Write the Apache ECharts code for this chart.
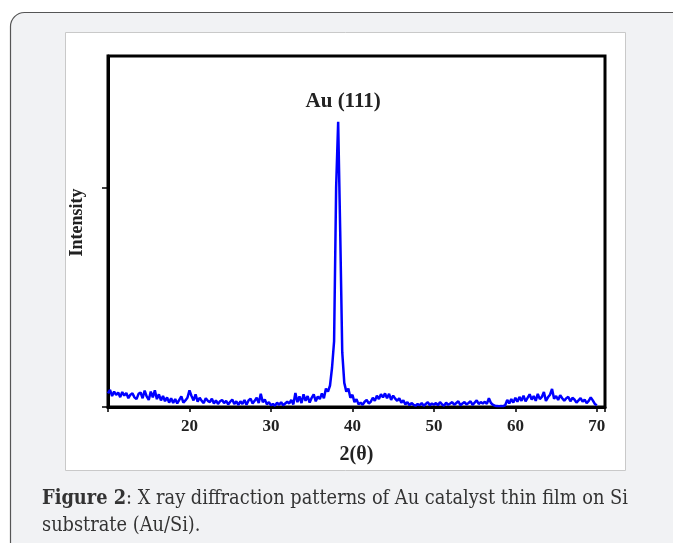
<!DOCTYPE html>
<html>
<head>
<meta charset="utf-8">
<script src="https://cdn.jsdelivr.net/npm/echarts@6/dist/echarts.min.js"></script>
<style>
    html, body { margin: 0; padding: 0; background: #fff; }
    #chart { width: 673px; height: 543px; }
</style>
</head>
<body>
<div id="chart"></div>
<script>
    // 2theta scan, 10 -> 70 deg, step 0.25
    var thetaStart = 10, thetaStep = 0.25;
    var intensity = [
        62, 78, 50, 70, 55, 66, 45, 68, 52,
        64, 40, 56, 62, 44, 36, 60, 66,
        40, 75, 48, 32, 70, 44, 76, 36,
        58, 30, 50, 26, 44, 20, 40, 18,
        36, 16, 32, 48, 20, 30, 42, 76,
        50, 30, 58, 24, 42, 28, 18, 40,
        28, 22, 38, 16, 30, 14, 26, 32,
        18, 28, 12, 24, 34, 14, 26, 10,
        26, 14, 32, 10, 30, 38, 16, 28,
        42, 18, 60, 22, 34, 12, 22, 8,
        14, 6, 20, 10, 22, 8, 16, 24,
        16, 32, 12, 64, 22, 48, 18, 58,
        28, 50, 20, 42, 58, 26, 48, 36,
        62, 40, 84, 70, 98, 180,
        300, 1000, 1300, 800, 250, 110,
        70, 84, 42, 56,
        22, 36, 12, 20, 10, 24, 32, 16,
        24, 42, 28, 52, 36, 58, 44, 62,
        40, 60, 32, 52, 38, 28, 40, 20,
        30, 12, 22, 8, 18, 10, 6, 14,
        8, 18, 6, 14, 22, 8, 16, 10,
        18, 8, 22, 12, 6, 20, 10, 16,
        22, 10, 18, 26, 8, 16, 22, 12,
        18, 26, 10, 20, 30, 14, 22, 16,
        24, 14, 40, 18, 10, 6, 5, 4,
        5, 4, 8, 32, 16, 36, 20, 42,
        24, 46, 28, 52, 26, 42, 58, 34,
        50, 28, 60, 36, 46, 68, 28, 44,
        56, 82, 38, 50, 32, 54, 40, 28,
        40, 46, 26, 42, 34, 20, 30, 40,
        24, 34, 18, 28, 44, 30, 14, 8
    ];
    var xTicks = [20, 30, 40, 50, 60, 70];
    var peak = { x: 38.25, y: 1300, name: 'Au (111)' };

    var points = [];
    for (var i = 0; i < intensity.length; i++) {
        points.push([thetaStart + i * thetaStep, intensity[i]]);
    }

    var serif = '"Liberation Serif", "Times New Roman", serif';
    var capFont = '"DejaVu Serif Condensed", "DejaVu Serif", serif';
    var mychart = echarts.init(document.getElementById('chart'));
    var option = {
        animation: false,
        graphic: [
            {
                type: 'rect', z: -100,
                shape: { x: 10.5, y: 12.5, width: 720, height: 600, r: 14 },
                style: { fill: '#f1f2f4', stroke: '#555', lineWidth: 1.2 }
            },
            {
                type: 'rect', z: -90,
                shape: { x: 65.5, y: 32.5, width: 560, height: 438 },
                style: { fill: '#fff', stroke: '#c9c9c9', lineWidth: 1 }
            },
            {
                type: 'text', left: 42, top: 485,
                style: {
                    text: '{b|Figure 2}: X ray diffraction patterns of Au catalyst thin film on Si\nsubstrate (Au/Si).',
                    font: '19.8px ' + capFont,
                    fill: '#333',
                    lineHeight: 27,
                    rich: {
                        b: { fontWeight: 'bold', fontSize: 19.8, fontFamily: capFont, fill: '#333' }
                    }
                }
            }
        ],
        grid: {
            left: 108, top: 56, right: 68, bottom: 136,
            show: true, borderColor: '#000', borderWidth: 3
        },
        xAxis: {
            type: 'value', min: 10, max: 71, interval: 10,
            name: '2(θ)', nameLocation: 'middle', nameGap: 38,
            nameTextStyle: { fontFamily: serif, fontWeight: 'bold', fontSize: 20, color: '#222' },
            axisLine: { lineStyle: { color: '#000', width: 3 } },
            axisTick: { length: 5, lineStyle: { color: '#000', width: 1.5 } },
            axisLabel: {
                margin: 11, fontFamily: serif, fontWeight: 'bold', fontSize: 17, color: '#222',
                formatter: function (v) { return xTicks.indexOf(v) >= 0 ? v : ''; }
            },
            splitLine: { show: false }
        },
        yAxis: {
            type: 'value', min: 0, max: 1600, interval: 1000,
            name: 'Intensity', nameLocation: 'middle', nameGap: 22, nameRotate: 90,
            nameTextStyle: { fontFamily: serif, fontWeight: 'bold', fontSize: 18, color: '#222', padding: [0, 0, 0, 18] },
            axisLine: { show: true, lineStyle: { color: '#000', width: 3 } },
            axisTick: { show: true, length: 6, customValues: [0, 1000], lineStyle: { color: '#000', width: 1.5 } },
            axisLabel: { show: false },
            splitLine: { show: false }
        },
        series: [{
            type: 'line',
            data: points,
            showSymbol: false,
            lineStyle: { color: '#0000ff', width: 2.5 },
            markPoint: {
                symbol: 'circle', symbolSize: 0,
                data: [{ coord: [peak.x, peak.y], name: peak.name }],
                label: {
                    show: true, position: 'top', distance: 10, offset: [5, 0],
                    formatter: peak.name,
                    fontFamily: serif, fontWeight: 'bold', fontSize: 21, color: '#222'
                }
            }
        }]
    };
    mychart.setOption(option);
</script>
</body>
</html>
